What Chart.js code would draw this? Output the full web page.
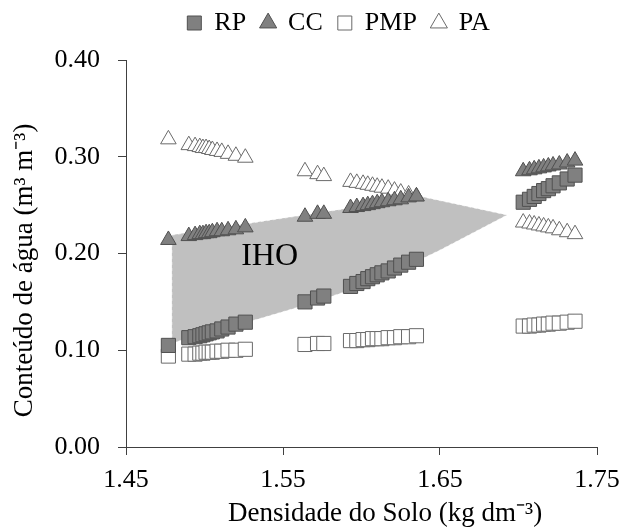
<!DOCTYPE html>
<html lang="pt">
<head>
    <meta charset="UTF-8">
    <title>IHO - Densidade do Solo</title>
    <script src="https://cdn.jsdelivr.net/npm/chart.js"></script>
    <style>
        body { margin: 0; background: #fff; }
    </style>
</head>
<body>
    <canvas id="myChart" width="640" height="530"></canvas>

    <script>
        'use strict';
        // densidade do solo (kg dm-3), shared by the four series
        var densidade = [1.477,
            1.490, 1.494, 1.497, 1.499, 1.501, 1.503, 1.505, 1.508, 1.511, 1.515, 1.520, 1.526,
            1.564, 1.572, 1.576,
            1.593, 1.597, 1.601, 1.604, 1.607, 1.610, 1.613, 1.617, 1.621, 1.625, 1.630, 1.635,
            1.703, 1.707, 1.710, 1.713, 1.716, 1.719, 1.722, 1.726, 1.731, 1.736];

        var rp = [0.105,
            0.113, 0.114, 0.115, 0.116, 0.117, 0.118, 0.119, 0.120, 0.122, 0.124, 0.127, 0.129,
            0.150, 0.154, 0.156,
            0.166, 0.169, 0.171, 0.174, 0.176, 0.178, 0.180, 0.182, 0.185, 0.188, 0.191, 0.194,
            0.253, 0.256, 0.259, 0.262, 0.265, 0.267, 0.270, 0.273, 0.277, 0.281];

        var cc = [0.214,
            0.218, 0.219, 0.220, 0.220, 0.221, 0.221, 0.222, 0.223, 0.223, 0.224, 0.225, 0.227,
            0.238, 0.241, 0.241,
            0.247, 0.248, 0.249, 0.250, 0.251, 0.252, 0.253, 0.254, 0.255, 0.256, 0.258, 0.259,
            0.285, 0.286, 0.287, 0.288, 0.289, 0.290, 0.291, 0.292, 0.294, 0.296];

        var pmp = [0.094,
            0.096, 0.096, 0.097, 0.097, 0.098, 0.098, 0.098, 0.099, 0.099, 0.100, 0.100, 0.101,
            0.106, 0.107, 0.107,
            0.110, 0.110, 0.111, 0.111, 0.112, 0.112, 0.112, 0.113, 0.113, 0.114, 0.114, 0.115,
            0.125, 0.125, 0.126, 0.126, 0.127, 0.127, 0.128, 0.128, 0.129, 0.130];

        var pa = [0.318,
            0.312, 0.311, 0.310, 0.309, 0.309, 0.308, 0.307, 0.306, 0.305, 0.303, 0.301, 0.299,
            0.285, 0.282, 0.280,
            0.274, 0.273, 0.272, 0.271, 0.270, 0.269, 0.268, 0.267, 0.265, 0.263, 0.261, 0.259,
            0.232, 0.231, 0.230, 0.229, 0.228, 0.227, 0.226, 0.224, 0.222, 0.220];

        // IHO area outline (density, water content)
        var ihoX = [1.4792, 1.4792, 1.6393, 1.6927, 1.6501, 1.6215, 1.5929, 1.5644, 1.5358];
        var ihoY = [0.1075, 0.2190, 0.2584, 0.2398, 0.2036, 0.1812, 0.1623, 0.1468, 0.1330];
        var ihoLabelX = 1.5415;
        var ihoLabelY = 0.188;

        var xTicks = [1.45, 1.55, 1.65, 1.75];
        var yTicks = [0.00, 0.10, 0.20, 0.30, 0.40];

        var serif = '"Liberation Serif", "Times New Roman", serif';
        var nb = '\u00A0';

        function points(ys) {
            return densidade.map(function (d, i) { return { x: d, y: ys[i] }; });
        }

        // grey IHO area + label, drawn under the markers
        var ihoPlugin = {
            id: 'ihoArea',
            beforeDatasetsDraw: function (chart) {
                var ctx = chart.ctx;
                var xs = chart.scales.x, ys = chart.scales.y;
                ctx.save();
                ctx.beginPath();
                ihoX.forEach(function (v, i) {
                    var px = xs.getPixelForValue(v), py = ys.getPixelForValue(ihoY[i]);
                    if (i === 0) ctx.moveTo(px, py); else ctx.lineTo(px, py);
                });
                ctx.closePath();
                ctx.fillStyle = '#c0c0c0';
                ctx.fill();
                ctx.setLineDash([3, 3]);
                ctx.strokeStyle = 'rgba(255,255,255,0.6)';
                ctx.lineWidth = 1;
                ctx.stroke();
                ctx.setLineDash([]);
                ctx.font = '32px ' + serif;
                ctx.fillStyle = '#000';
                ctx.textAlign = 'center';
                ctx.textBaseline = 'alphabetic';
                ctx.fillText('IHO', xs.getPixelForValue(ihoLabelX), ys.getPixelForValue(ihoLabelY));
                ctx.restore();
            }
        };

        // nudge the legend box (the original legend is not centred on the canvas)
        var legendOffset = {
            id: 'legendOffset',
            afterLayout: function (chart) {
                var lg = chart.legend;
                lg.left += 40; lg.right += 40;
                lg.top -= 14; lg.bottom -= 14;
            }
        };

        var filled = '#808080', filledBorder = '#505050';
        var openBorder = '#6a6a6a';

        var ctx = document.getElementById('myChart').getContext('2d');
        var myChart = new Chart(ctx, {
            type: 'scatter',
            data: {
                datasets: [
                    { label: 'RP', data: points(rp), pointStyle: 'rect', pointRadius: 10,
                      backgroundColor: filled, borderColor: filledBorder, borderWidth: 1 },
                    { label: 'CC', data: points(cc), pointStyle: 'triangle', pointRadius: 9,
                      backgroundColor: filled, borderColor: filledBorder, borderWidth: 1 },
                    { label: 'PMP', data: points(pmp), pointStyle: 'rect', pointRadius: 10,
                      backgroundColor: '#ffffff', borderColor: openBorder, borderWidth: 1 },
                    { label: 'PA', data: points(pa), pointStyle: 'triangle', pointRadius: 9,
                      backgroundColor: '#ffffff', borderColor: openBorder, borderWidth: 1 }
                ]
            },
            options: {
                responsive: false,
                animation: false,
                layout: { padding: { left: 0, right: 43, top: 9, bottom: 0 } },
                plugins: {
                    legend: {
                        position: 'top',
                        labels: {
                            usePointStyle: true,
                            boxWidth: 14,
                            boxHeight: 14,
                            padding: 15,
                            color: '#000',
                            font: { family: serif, size: 26 }
                        }
                    },
                    tooltip: { enabled: false }
                },
                scales: {
                    x: {
                        type: 'linear',
                        min: 1.45,
                        max: 1.75,
                        afterBuildTicks: function (s) { s.ticks = xTicks.map(function (v) { return { value: v }; }); },
                        afterFit: function (s) { s.height = 83; },
                        grid: { drawOnChartArea: false, tickLength: 8, color: '#404040' },
                        border: { color: '#404040' },
                        ticks: {
                            callback: function (v) { return v.toFixed(2); },
                            color: '#000',
                            font: { family: serif, size: 26 },
                            padding: 10,
                            maxRotation: 0,
                            autoSkip: false
                        },
                        title: {
                            display: true,
                            text: nb.repeat(7) + 'Densidade do Solo (kg dm\u207B\u00B3)',
                            color: '#000',
                            font: { family: serif, size: 27 },
                            padding: { top: 0, bottom: 0 }
                        }
                    },
                    y: {
                        type: 'linear',
                        min: 0,
                        max: 0.4,
                        afterBuildTicks: function (s) { s.ticks = yTicks.map(function (v) { return { value: v }; }); },
                        afterFit: function (s) { s.width = 126; },
                        grid: { drawOnChartArea: false, tickLength: 8, color: '#404040' },
                        border: { color: '#404040' },
                        ticks: {
                            callback: function (v) { return v.toFixed(2); },
                            color: '#000',
                            font: { family: serif, size: 26 },
                            padding: 18
                        },
                        title: {
                            display: true,
                            text: 'Conte\u00FAdo de \u00E1gua (m\u00B3 m\u207B\u00B3)' + nb.repeat(5),
                            color: '#000',
                            font: { family: serif, size: 27 },
                            padding: { top: 9, bottom: 0 }
                        }
                    }
                }
            },
            plugins: [ihoPlugin, legendOffset]
        });
    </script>
</body>
</html>
